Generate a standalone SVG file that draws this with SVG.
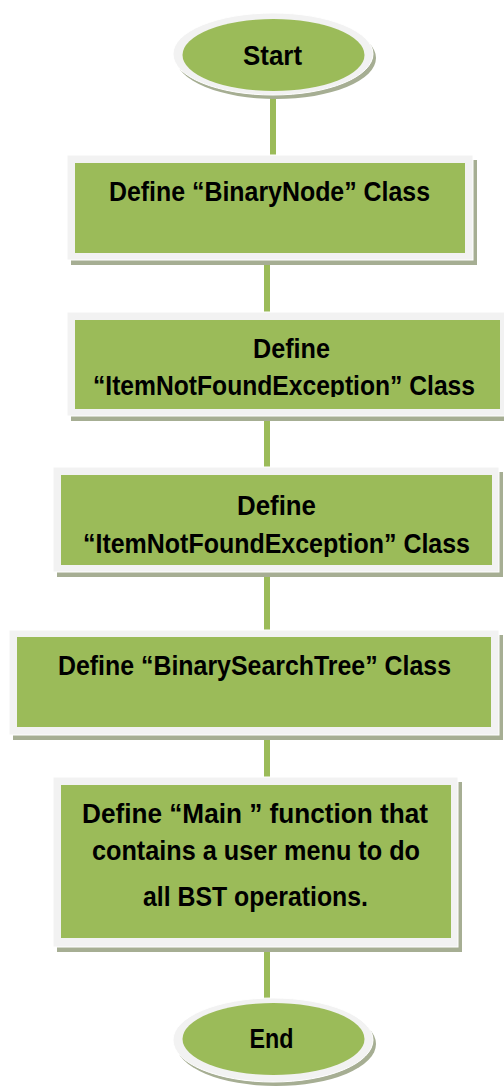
<svg xmlns="http://www.w3.org/2000/svg" width="504" height="1088" viewBox="0 0 504 1088">
  <style>
    .shadow { fill: #a6ae93; }
    .frame { fill: #f2f2f2; stroke: #ffffff; stroke-width: 1; }
    .body { fill: #9bbb59; }
    .label { font-family: "Liberation Sans", Arial, sans-serif; font-weight: bold; fill: #000000; text-anchor: middle; }
    .link { stroke: #9bbb59; stroke-width: 6; fill: none; }
  </style>
  <defs>
    <clipPath id="clip-item1"><rect x="75" y="320" width="429" height="77"/></clipPath>
    <clipPath id="clip-item2"><rect x="61" y="475" width="431" height="82"/></clipPath>
  </defs>
  <rect width="504" height="1088" fill="#ffffff"/>

  <!-- connectors -->
  <g id="connectors">
    <line class="link" x1="273" y1="96" x2="273" y2="155"/>
    <line class="link" x1="267" y1="260" x2="267" y2="312"/>
    <line class="link" x1="267" y1="416" x2="267" y2="467"/>
    <line class="link" x1="267" y1="572" x2="267" y2="630"/>
    <line class="link" x1="267" y1="735" x2="267" y2="777"/>
    <line class="link" x1="267" y1="947" x2="267" y2="1000"/>
  </g>

  <!-- start terminal -->
  <g id="start">
    <ellipse class="shadow" cx="276" cy="58" rx="100" ry="41"/>
    <ellipse class="frame" cx="273" cy="54" rx="100" ry="41"/>
    <ellipse class="body" cx="273.5" cy="55" rx="91" ry="36"/>
    <text class="label" x="272.5" y="65" font-size="27" textLength="59" lengthAdjust="spacingAndGlyphs">Start</text>
  </g>

  <!-- class definition steps -->
  <g id="binary-node">
    <rect class="shadow" x="71" y="160" width="406" height="105"/>
    <rect class="frame" x="67" y="155" width="406" height="105"/>
    <rect class="body" x="75" y="163" width="390" height="90"/>
    <text class="label" x="269.5" y="201" font-size="27" textLength="321" lengthAdjust="spacingAndGlyphs">Define “BinaryNode” Class</text>
  </g>

  <g id="item-not-found-1">
    <rect class="shadow" x="71" y="317" width="441" height="104"/>
    <rect class="frame" x="67" y="312" width="441" height="104"/>
    <rect class="body" x="75" y="320" width="425" height="89"/>
    <g clip-path="url(#clip-item1)">
      <text class="label" x="291.5" y="358" font-size="27" textLength="77" lengthAdjust="spacingAndGlyphs">Define</text>
      <text class="label" x="284" y="395" font-size="27" textLength="382" lengthAdjust="spacingAndGlyphs">“ItemNotFoundException” Class</text>
    </g>
  </g>

  <g id="item-not-found-2">
    <rect class="shadow" x="57" y="472" width="446" height="105"/>
    <rect class="frame" x="53" y="467" width="446" height="105"/>
    <rect class="body" x="61" y="475" width="431" height="90"/>
    <g clip-path="url(#clip-item2)">
      <text class="label" x="276.5" y="515" font-size="27" textLength="79" lengthAdjust="spacingAndGlyphs">Define</text>
      <text class="label" x="276.5" y="553" font-size="27" textLength="387" lengthAdjust="spacingAndGlyphs">“ItemNotFoundException” Class</text>
    </g>
  </g>

  <g id="binary-search-tree">
    <rect class="shadow" x="13" y="635" width="490" height="105"/>
    <rect class="frame" x="9" y="630" width="490" height="105"/>
    <rect class="body" x="17" y="637" width="474" height="90"/>
    <text class="label" x="254.5" y="675" font-size="27" textLength="393" lengthAdjust="spacingAndGlyphs">Define “BinarySearchTree” Class</text>
  </g>

  <!-- main function step -->
  <g id="main-function">
    <rect class="shadow" x="57" y="782" width="405" height="170"/>
    <rect class="frame" x="53" y="777" width="405" height="170"/>
    <rect class="body" x="61" y="785" width="390" height="153"/>
    <text class="label" x="255" y="823" font-size="27" textLength="346" lengthAdjust="spacingAndGlyphs">Define “Main ” function that</text>
    <text class="label" x="256" y="860" font-size="27" textLength="328" lengthAdjust="spacingAndGlyphs">contains a user menu to do</text>
    <text class="label" x="255.5" y="906" font-size="27" textLength="225" lengthAdjust="spacingAndGlyphs">all BST operations.</text>
  </g>

  <!-- end terminal -->
  <g id="end">
    <ellipse class="shadow" cx="276" cy="1044" rx="100" ry="42"/>
    <ellipse class="frame" cx="273" cy="1040" rx="100" ry="42"/>
    <ellipse class="body" cx="273.5" cy="1039" rx="91" ry="36"/>
    <text class="label" x="271.5" y="1048" font-size="27" textLength="44" lengthAdjust="spacingAndGlyphs">End</text>
  </g>
</svg>
